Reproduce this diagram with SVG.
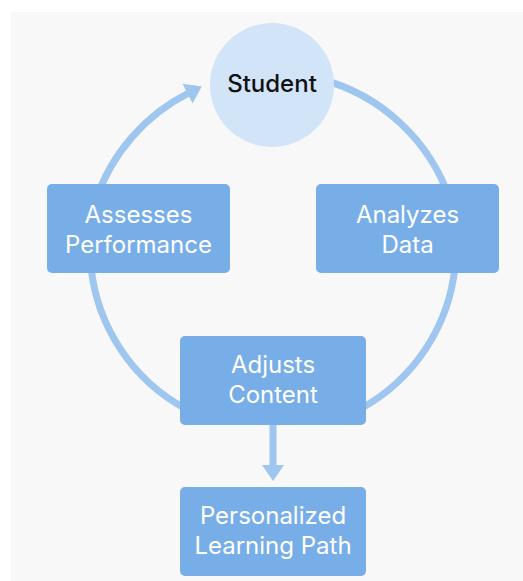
<svg xmlns="http://www.w3.org/2000/svg" width="523" height="581" viewBox="0 0 523 581">
<defs>
<style>
.bg{fill:#f8f8f8}
.box{fill:#78aee8}
.lbl{font-family:Inter,Roboto,"Liberation Sans",sans-serif;font-size:24px;fill:#ffffff;text-anchor:middle}
.stu{font-family:Inter,Roboto,"Liberation Sans",sans-serif;font-size:24px;font-weight:500;fill:#111111;text-anchor:middle}
.conn{fill:none;stroke:#9ec6ef;stroke-width:7}
</style>
<marker id="ah" markerUnits="userSpaceOnUse" markerWidth="20" markerHeight="24" viewBox="0 0 20 24" refX="1" refY="12" orient="auto">
<path d="M0,1 L16,12 L0,23 Z" fill="#9ec6ef"/>
</marker>
</defs>
<rect x="0" y="0" width="523" height="581" fill="#ffffff"/>
<rect class="bg" x="11" y="12" width="512" height="569"/>
<g id="connectors">
<path class="conn" d="M320,79 A187,187 0 0 1 450,199.7"/>
<path class="conn" d="M455.1,266 A183,183 0 0 1 360,409"/>
<path class="conn" d="M186,409 A183,183 0 0 1 90.9,266"/>
<path class="conn" d="M96,199.7 A187,187 0 0 1 188.4,93.2" marker-end="url(#ah)"/>
<path class="conn" d="M273,425 L273,466" marker-end="url(#ah)"/>
</g>
<g id="student">
<circle cx="272" cy="85" r="62" fill="#d2e4f7"/>
<text class="stu" x="272" y="92">Student</text>
</g>
<g id="assesses">
<rect class="box" x="47" y="184" width="183" height="89" rx="5"/>
<text class="lbl" x="138.5" y="223">Assesses</text>
<text class="lbl" x="138.5" y="253">Performance</text>
</g>
<g id="analyzes">
<rect class="box" x="316" y="184" width="183" height="89" rx="5"/>
<text class="lbl" x="407.5" y="223">Analyzes</text>
<text class="lbl" x="407.5" y="253">Data</text>
</g>
<g id="adjusts">
<rect class="box" x="180" y="336" width="186" height="89" rx="5"/>
<text class="lbl" x="273" y="373">Adjusts</text>
<text class="lbl" x="273" y="403">Content</text>
</g>
<g id="path">
<rect class="box" x="180" y="487" width="186" height="89" rx="5"/>
<text class="lbl" x="273" y="524">Personalized</text>
<text class="lbl" x="273" y="554">Learning Path</text>
</g>
</svg>
